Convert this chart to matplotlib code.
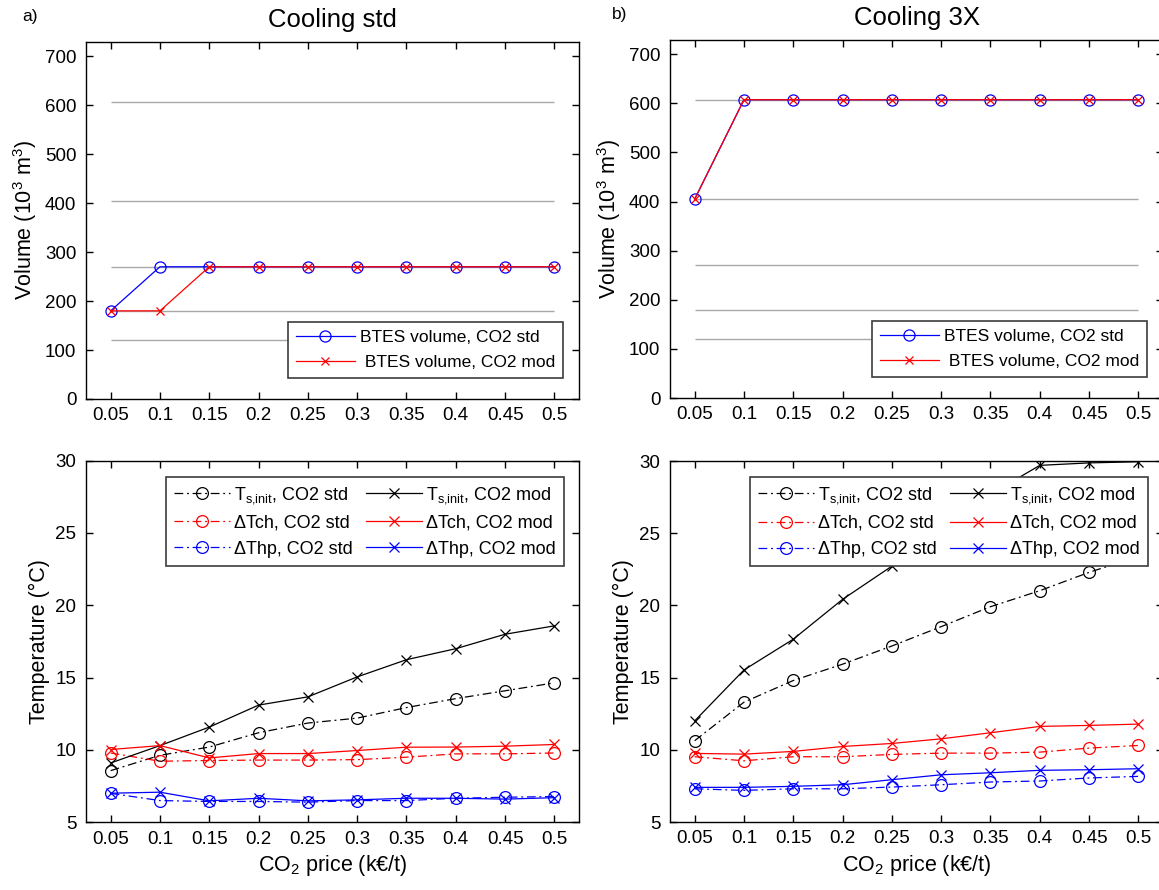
import matplotlib
matplotlib.use("Agg")
import matplotlib.pyplot as plt

plt.rcParams["font.family"] = ["Liberation Sans", "DejaVu Sans"]
plt.rcParams["mathtext.fontset"] = "custom"
plt.rcParams["mathtext.rm"] = "Liberation Sans"
plt.rcParams["mathtext.it"] = "Liberation Sans:italic"

co2_price = [0.05, 0.1, 0.15, 0.2, 0.25, 0.3, 0.35, 0.4, 0.45, 0.5]
tick_labels = ["0.05", "0.1", "0.15", "0.2", "0.25", "0.3", "0.35", "0.4", "0.45", "0.5"]

# available BTES sizes (10^3 m3), grey reference lines
btes_sizes = [120, 180, 270, 405, 607.5]

vol_std_a = [180, 270, 270, 270, 270, 270, 270, 270, 270, 270]
vol_mod_a = [180, 180, 270, 270, 270, 270, 270, 270, 270, 270]
vol_std_b = [405, 607.5, 607.5, 607.5, 607.5, 607.5, 607.5, 607.5, 607.5, 607.5]
vol_mod_b = [405, 607.5, 607.5, 607.5, 607.5, 607.5, 607.5, 607.5, 607.5, 607.5]

ts_std_a = [8.57, 9.63, 10.2, 11.19, 11.86, 12.2, 12.93, 13.55, 14.09, 14.64]
ts_mod_a = [9.1, 10.3, 11.58, 13.1, 13.67, 15.05, 16.24, 17.0, 18.0, 18.58]
tch_std_a = [9.79, 9.22, 9.27, 9.3, 9.3, 9.33, 9.5, 9.73, 9.73, 9.79]
tch_mod_a = [10.03, 10.3, 9.45, 9.75, 9.75, 9.96, 10.19, 10.2, 10.26, 10.38]
thp_std_a = [7.0, 6.5, 6.44, 6.44, 6.39, 6.5, 6.5, 6.66, 6.73, 6.78]
thp_mod_a = [7.01, 7.08, 6.48, 6.66, 6.48, 6.55, 6.66, 6.66, 6.6, 6.7]

ts_std_b = [10.63, 13.3, 14.8, 15.93, 17.19, 18.53, 19.91, 21.02, 22.29, 23.4]
ts_mod_b = [12.0, 15.53, 17.66, 20.42, 22.72, 25.3, 27.7, 29.7, 29.87, 29.95]
tch_std_b = [9.52, 9.24, 9.52, 9.52, 9.68, 9.77, 9.77, 9.84, 10.12, 10.3]
tch_mod_b = [9.75, 9.7, 9.89, 10.23, 10.44, 10.76, 11.18, 11.62, 11.69, 11.78]
thp_std_b = [7.3, 7.19, 7.3, 7.3, 7.42, 7.58, 7.77, 7.84, 8.05, 8.16]
thp_mod_b = [7.4, 7.4, 7.47, 7.58, 7.93, 8.27, 8.41, 8.58, 8.62, 8.69]

TICK_FS = 13.5
LABEL_FS = 15.5
DASHDOT = (7, 3, 1.5, 3)


def style_axes(ax):
    ax.set_xlim(0.025, 0.525)
    ax.set_xticks(co2_price)
    ax.set_xticklabels(tick_labels)
    ax.tick_params(direction="in", top=True, right=True, length=5, width=1,
                   labelsize=TICK_FS)
    ax.tick_params(axis="x", pad=6)
    ax.tick_params(axis="y", pad=7)
    for s in ax.spines.values():
        s.set_linewidth(1)


def legend_frame(leg):
    f = leg.get_frame()
    f.set_edgecolor("#3c3c3c")
    f.set_linewidth(1.2)
    f.set_boxstyle("square", pad=0)


def plot_volume(ax, std, mod, title):
    ax.hlines(btes_sizes, co2_price[0], co2_price[-1], color="#a8a8a8", lw=1, zorder=1)
    ax.plot(co2_price, std, "-", color="blue", lw=0.9, marker="o", ms=8,
            mfc="none", mew=0.9, label="BTES volume, CO2 std", zorder=3)
    ax.plot(co2_price, mod, "-", color="red", lw=0.9, marker="x", ms=6,
            mew=0.9, label=" BTES volume, CO2 mod", zorder=4)
    style_axes(ax)
    ax.set_ylim(0, 729)
    ax.set_yticks(range(0, 701, 100))
    ax.set_ylabel("Volume (10$^3$ m$^3$)", fontsize=LABEL_FS)
    ax.set_title(title, fontsize=18.5, pad=11)
    leg = ax.legend(loc="lower right", bbox_to_anchor=(0.9675, 0.06), borderaxespad=0,
                    fontsize=12.5, handlelength=3.4, handletextpad=0.3, numpoints=1,
                    fancybox=False, framealpha=1, borderpad=0.45, labelspacing=0.55)
    legend_frame(leg)


def plot_temps(ax, series):
    ts_std, ts_mod, tch_std, tch_mod, thp_std, thp_mod = series
    kw_std = dict(ls=(0, DASHDOT), lw=0.9, marker="o", ms=8.5, mfc="none", mew=0.9)
    kw_mod = dict(ls="-", lw=0.9, marker="x", ms=6.5, mew=0.9)
    ts_lab = "T$_{\\rm s{,}init}$"
    ax.plot(co2_price, ts_std, color="black", label=ts_lab + ", CO2 std", **kw_std)
    ax.plot(co2_price, tch_std, color="red", label="\u0394Tch, CO2 std", **kw_std)
    ax.plot(co2_price, thp_std, color="blue", label="\u0394Thp, CO2 std", **kw_std)
    ax.plot(co2_price, ts_mod, color="black", label=ts_lab + ", CO2 mod", **kw_mod)
    ax.plot(co2_price, tch_mod, color="red", label="\u0394Tch, CO2 mod", **kw_mod)
    ax.plot(co2_price, thp_mod, color="blue", label="\u0394Thp, CO2 mod", **kw_mod)
    style_axes(ax)
    ax.set_ylim(5, 30)
    ax.set_yticks(range(5, 31, 5))
    ax.set_ylabel("Temperature (\u00b0C)", fontsize=LABEL_FS)
    ax.set_xlabel("CO$_2$ price (k\u20ac/t)", fontsize=LABEL_FS)
    leg = ax.legend(loc="upper right", bbox_to_anchor=(0.9696, 0.956), borderaxespad=0,
                    ncol=2, fontsize=13, handlelength=3.1, handletextpad=0.25,
                    columnspacing=0.7, numpoints=1, fancybox=False, framealpha=1,
                    borderpad=0.45, labelspacing=0.5)
    legend_frame(leg)


def main():
    fig = plt.figure(figsize=(11.59, 8.9), dpi=100)
    ax_a = fig.add_axes([0.0742, 0.5517, 0.4254, 0.4011])
    ax_b = fig.add_axes([0.5781, 0.5528, 0.4254, 0.4022])
    ax_c = fig.add_axes([0.0742, 0.0761, 0.4254, 0.4063])
    ax_d = fig.add_axes([0.5781, 0.0764, 0.4254, 0.4056])

    plot_volume(ax_a, vol_std_a, vol_mod_a, "Cooling std")
    plot_volume(ax_b, vol_std_b, vol_mod_b, "Cooling 3X")
    plot_temps(ax_c, [ts_std_a, ts_mod_a, tch_std_a, tch_mod_a, thp_std_a, thp_mod_a])
    plot_temps(ax_d, [ts_std_b, ts_mod_b, tch_std_b, tch_mod_b, thp_std_b, thp_mod_b])

    fig.text(0.019, 1 - 17 / 890, "a)", fontsize=12.5, va="center")
    fig.text(0.528, 1 - 15 / 890, "b)", fontsize=12.5, va="center")

    fig.savefig("out.png", dpi=100)
    plt.close(fig)


if __name__ == "__main__":
    main()
